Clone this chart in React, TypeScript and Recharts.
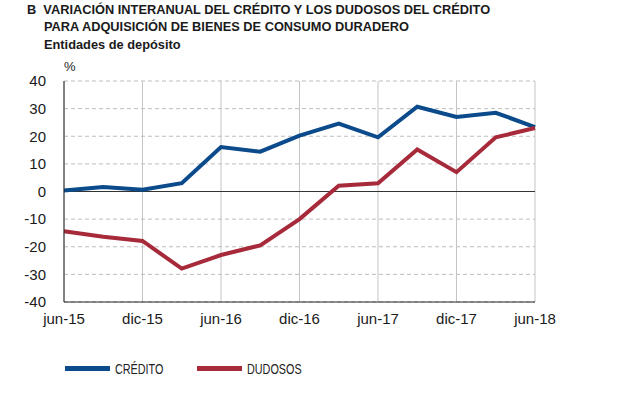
import {
  LineChart,
  Line,
  XAxis,
  YAxis,
  CartesianGrid,
  ReferenceLine,
  Legend,
} from "recharts";

const quarters = [
  "jun-15", "sep-15", "dic-15", "mar-16", "jun-16", "sep-16", "dic-16",
  "mar-17", "jun-17", "sep-17", "dic-17", "mar-18", "jun-18",
];
const credito = [0.4, 1.6, 0.6, 3.0, 16.1, 14.4, 20.2, 24.6, 19.6, 30.7, 27.0, 28.5, 23.3];
const dudosos = [-14.4, -16.4, -17.9, -27.9, -23.0, -19.5, -10.0, 2.1, 3.0, 15.2, 7.0, 19.6, 23.0];
const xTicks = [0, 2, 4, 6, 8, 10, 12];
const yTicks = [-40, -30, -20, -10, 0, 10, 20, 30, 40];

const BLUE = "#0b4a8b";
const RED = "#a72a3b";
const FONT = "'Liberation Sans', Arial, sans-serif";

const data = quarters.map((q, i) => ({
  x: i,
  label: q,
  credito: credito[i],
  dudosos: dudosos[i],
}));

function LegendBox() {
  const items = [
    { name: "CRÉDITO", color: BLUE },
    { name: "DUDOSOS", color: RED },
  ];
  return (
    <div style={{ display: "flex", fontFamily: FONT, fontSize: 15, color: "#222" }}>
      {items.map((it) => (
        <div key={it.name} style={{ display: "flex", alignItems: "center", width: 132 }}>
          <span style={{ width: 45, height: 5, background: it.color, display: "inline-block", marginRight: 5 }} />
          <span style={{ display: "inline-block", transform: "scaleX(0.72)", transformOrigin: "left center", whiteSpace: "nowrap" }}>
            {it.name}
          </span>
        </div>
      ))}
    </div>
  );
}

export default function App() {
  return (
    <div style={{ position: "absolute", left: 0, top: 0, width: 643, height: 397, background: "#fff", fontFamily: FONT }}>
      <div style={{ position: "absolute", left: 27, top: 1, fontSize: 12.8, fontWeight: 700, color: "#1a1a1a", lineHeight: "17px" }}>
        <div>B&nbsp;&nbsp;VARIACIÓN INTERANUAL DEL CRÉDITO Y LOS DUDOSOS DEL CRÉDITO</div>
        <div style={{ paddingLeft: 17 }}>PARA ADQUISICIÓN DE BIENES DE CONSUMO DURADERO</div>
        <div style={{ paddingLeft: 17, marginTop: 1 }}>Entidades de depósito</div>
      </div>
      <div style={{ position: "absolute", left: 64, top: 59, fontSize: 13, color: "#222" }}>%</div>
      <LineChart
        width={643}
        height={397}
        data={data}
        margin={{ top: 81, right: 108, left: 0, bottom: 42 }}
      >
        <CartesianGrid horizontal vertical={false} stroke="#bdbdbd" strokeDasharray="4 3" />
        <CartesianGrid horizontal={false} vertical stroke="#c4c4c4" />
        <XAxis
          dataKey="x"
          type="number"
          domain={[0, 12]}
          ticks={xTicks}
          tickFormatter={(v: number) => quarters[v]}
          tick={{ fill: "#1a1a1a", fontSize: 15, fontFamily: FONT }}
          axisLine={{ stroke: "#222" }}
          tickLine={false}
          tickMargin={5}
          height={36}
        />
        <YAxis
          domain={[-40, 40]}
          ticks={yTicks}
          interval={0}
          tick={{ fill: "#1a1a1a", fontSize: 15, fontFamily: FONT }}
          axisLine={{ stroke: "#222" }}
          tickLine={false}
          width={64}
          tickMargin={12}
        />
        <ReferenceLine y={0} stroke="#333" strokeWidth={1} />
        <Legend
          verticalAlign="bottom"
          align="left"
          wrapperStyle={{ left: 65, bottom: 20 }}
          content={() => <LegendBox />}
        />
        <Line
          dataKey="credito"
          stroke={BLUE}
          strokeWidth={4}
          dot={false}
          isAnimationActive={false}
          strokeLinejoin="miter"
        />
        <Line
          dataKey="dudosos"
          stroke={RED}
          strokeWidth={4}
          dot={false}
          isAnimationActive={false}
          strokeLinejoin="miter"
        />
      </LineChart>
    </div>
  );
}
